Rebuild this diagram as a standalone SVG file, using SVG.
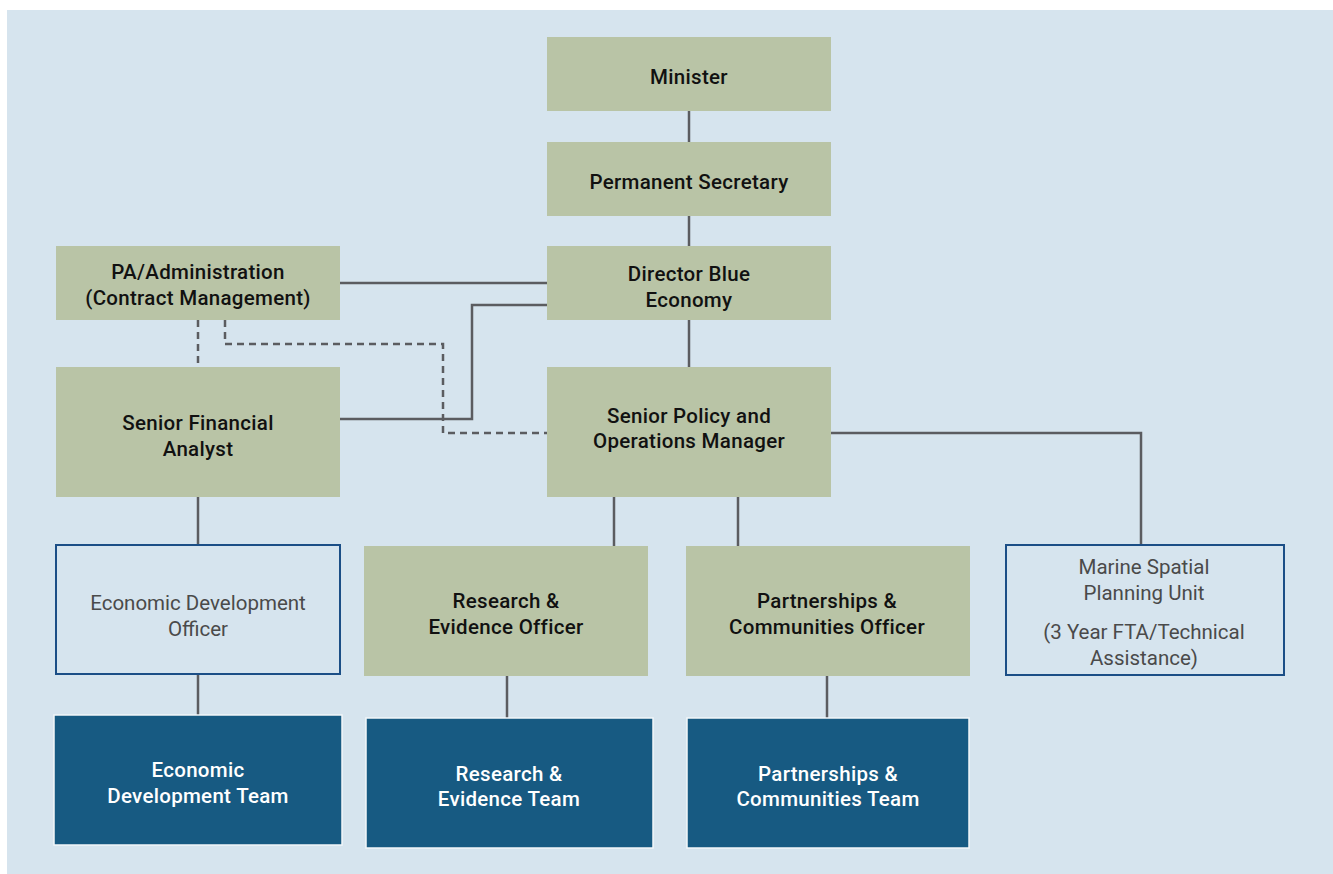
<svg xmlns="http://www.w3.org/2000/svg" width="1333" height="874" viewBox="0 0 1333 874">
  <style>
    .green { fill: #b9c4a6; }
    .outline { fill: #d6e4ee; stroke: #1b4e86; stroke-width: 2; }
    .team { fill: #175a82; stroke: #f2f6f9; stroke-width: 1.5; }
    text { font-family: "Roboto", "Liberation Sans", sans-serif; font-size: 20.5px; text-anchor: middle; }
    .b { font-weight: 500; fill: #111111; letter-spacing: 0.3px; }
    .r { font-weight: 400; fill: #4a4a4a; }
    .w { font-weight: 500; fill: #ffffff; letter-spacing: 0.3px; }
    .link { fill: none; stroke: #5b5c60; stroke-width: 2.5; }
    .dash { fill: none; stroke: #5b5c60; stroke-width: 2.5; stroke-dasharray: 7 5; }
  </style>

  <rect x="0" y="0" width="1333" height="874" fill="#ffffff"/>
  <rect x="7" y="10" width="1326" height="864" fill="#d6e4ee"/>

  <g id="connectors">
    <path class="link" d="M689 111V142"/>
    <path class="link" d="M689 216V246"/>
    <path class="link" d="M689 320V367"/>
    <path class="link" d="M340 283H547"/>
    <path class="link" d="M340 419H472V305H547"/>
    <path class="dash" d="M198 320V367"/>
    <path class="dash" d="M225 320V344H443V433H547"/>
    <path class="link" d="M614 497V546"/>
    <path class="link" d="M738 497V546"/>
    <path class="link" d="M831 433H1141V545"/>
    <path class="link" d="M198 497V545"/>
    <path class="link" d="M198 674V715"/>
    <path class="link" d="M507 676V718"/>
    <path class="link" d="M827 676V718"/>
  </g>

  <g id="minister">
    <rect class="green" x="547" y="37" width="284" height="74"/>
    <text class="b" x="689" y="84">Minister</text>
  </g>
  <g id="permanent-secretary">
    <rect class="green" x="547" y="142" width="284" height="74"/>
    <text class="b" x="689" y="189">Permanent Secretary</text>
  </g>
  <g id="director">
    <rect class="green" x="547" y="246" width="284" height="74"/>
    <text class="b" x="689" y="281">Director Blue</text>
    <text class="b" x="689" y="307">Economy</text>
  </g>
  <g id="pa-admin">
    <rect class="green" x="56" y="246" width="284" height="74"/>
    <text class="b" x="198" y="279">PA/Administration</text>
    <text class="b" x="198" y="305">(Contract Management)</text>
  </g>
  <g id="senior-financial-analyst">
    <rect class="green" x="56" y="367" width="284" height="130"/>
    <text class="b" x="198" y="430">Senior Financial</text>
    <text class="b" x="198" y="456">Analyst</text>
  </g>
  <g id="senior-policy-manager">
    <rect class="green" x="547" y="367" width="284" height="130"/>
    <text class="b" x="689" y="423">Senior Policy and</text>
    <text class="b" x="689" y="448">Operations Manager</text>
  </g>
  <g id="economic-development-officer">
    <rect class="outline" x="56" y="545" width="284" height="129"/>
    <text class="r" x="198" y="610">Economic Development</text>
    <text class="r" x="198" y="636">Officer</text>
  </g>
  <g id="research-officer">
    <rect class="green" x="364" y="546" width="284" height="130"/>
    <text class="b" x="506" y="608">Research &amp;</text>
    <text class="b" x="506" y="634">Evidence Officer</text>
  </g>
  <g id="partnerships-officer">
    <rect class="green" x="686" y="546" width="284" height="130"/>
    <text class="b" x="827" y="608">Partnerships &amp;</text>
    <text class="b" x="827" y="634">Communities Officer</text>
  </g>
  <g id="marine-spatial-planning">
    <rect class="outline" x="1006" y="545" width="278" height="130"/>
    <text class="r" x="1144" y="574">Marine Spatial</text>
    <text class="r" x="1144" y="600">Planning Unit</text>
    <text class="r" x="1144" y="639">(3 Year FTA/Technical</text>
    <text class="r" x="1144" y="665">Assistance)</text>
  </g>
  <g id="economic-development-team">
    <rect class="team" x="54" y="715" width="288" height="130"/>
    <text class="w" x="198" y="777">Economic</text>
    <text class="w" x="198" y="803">Development Team</text>
  </g>
  <g id="research-team">
    <rect class="team" x="366" y="718" width="287" height="130"/>
    <text class="w" x="509" y="781">Research &amp;</text>
    <text class="w" x="509" y="806">Evidence Team</text>
  </g>
  <g id="partnerships-team">
    <rect class="team" x="687" y="718" width="282" height="130"/>
    <text class="w" x="828" y="781">Partnerships &amp;</text>
    <text class="w" x="828" y="806">Communities Team</text>
  </g>
</svg>
